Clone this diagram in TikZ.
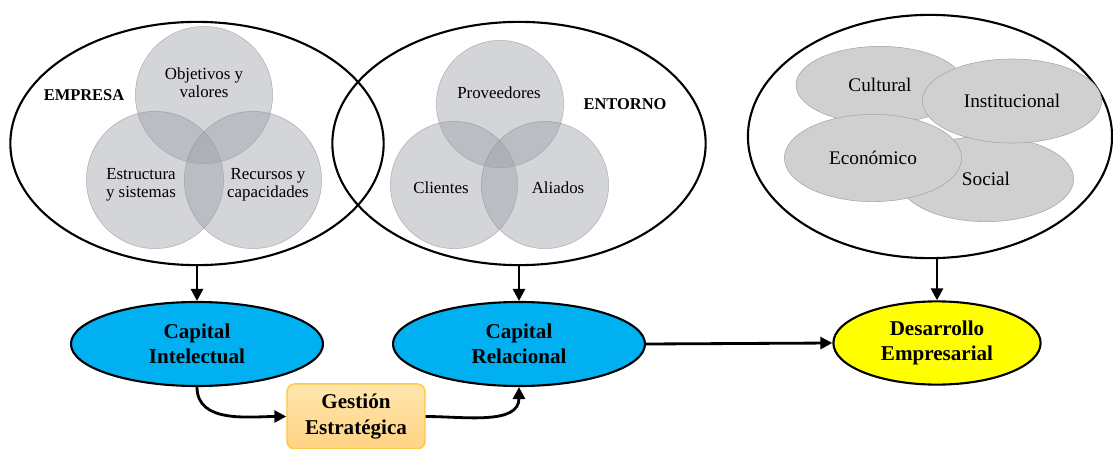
\documentclass[tikz,border=0pt]{standalone}
\usepackage{fontspec}
\setmainfont{Liberation Serif}
\usetikzlibrary{shapes.geometric,arrows.meta}

\definecolor{capblue}{HTML}{00B0F0}
\definecolor{devyellow}{HTML}{FFFF00}
\definecolor{venngray}{HTML}{9EA1AA}
\definecolor{ovalgray}{HTML}{D0D0D0}
\definecolor{gestop}{HTML}{FFE6AE}
\definecolor{gesbottom}{HTML}{FFD383}
\definecolor{gesborder}{HTML}{FFC83D}

\begin{document}
\begin{tikzpicture}[x=0.025cm,y=0.025cm,
    bigoval/.style={ellipse,draw,line width=1.5pt,inner sep=0pt,minimum width=9.33cm,minimum height=6.08cm},
    venn/.style={circle,draw=gray,draw opacity=0.5,fill=venngray,fill opacity=0.45,inner sep=0pt},
    venntext/.style={align=center,font=\fontsize{12}{12.5}\selectfont},
    sidetext/.style={font=\fontsize{11.7}{13}\selectfont\bfseries},
    envoval/.style={ellipse,draw=gray!70,fill=ovalgray,inner sep=0pt,font=\fontsize{13.7}{15}\selectfont},
    keyoval/.style={ellipse,draw,line width=1.5pt,inner sep=0pt,align=center,font=\fontsize{15}{18}\selectfont\bfseries},
    flow/.style={line width=2pt,-{Triangle[length=3mm,width=3mm]}}]
    \useasboundingbox (0,0) rectangle (1113,-448);

    % outer ovals
    \node[bigoval] (empresa) at (197,-143.5) {};
    \node[bigoval] (entorno) at (519,-143.5) {};
    \node[bigoval,minimum width=9.1cm] (contexto) at (930,-136.5) {};

    % empresa circles
    \node[venn,minimum size=3.43cm] (obj) at (204,-95) {};
    \node[venn,minimum size=3.43cm] (est) at (155,-180) {};
    \node[venn,minimum size=3.43cm] (rec) at (253,-180) {};
    \node[venntext] (objtxt) at (204,-83) {Objetivos y\\valores};
    \node[venntext] (esttxt) at (141,-185) {Estructura\\y sistemas};
    \node[venntext] (rectxt) at (268,-185) {Recursos y\\capacidades};
    \node[sidetext] (emplbl) at (84,-95) {EMPRESA};

    % entorno circles
    \node[venn,minimum size=3.18cm] (pro) at (500,-104) {};
    \node[venn,minimum size=3.18cm] (cli) at (454,-185) {};
    \node[venn,minimum size=3.18cm] (ali) at (545,-185) {};
    \node[venntext] (protxt) at (499,-93) {Proveedores};
    \node[venntext] (clitxt) at (441,-188) {Clientes};
    \node[venntext] (alitxt) at (558,-188) {Aliados};
    \node[sidetext] (entlbl) at (625,-104) {ENTORNO};

    % dimensiones
    \node[envoval,minimum width=4.38cm,minimum height=2.13cm] (soc) at (986,-179) {Social};
    \node[envoval,minimum width=4.2cm,minimum height=1.93cm] (cul) at (880,-85) {Cultural};
    \node[envoval,minimum width=4.48cm,minimum height=2.1cm] (ins) at (1012,-101) {Institucional};
    \node[envoval,minimum width=4.43cm,minimum height=2.18cm] (eco) at (873,-158) {Económico};

    % bottom row
    \node[keyoval,fill=capblue,minimum width=6.3cm,minimum height=2.1cm] (ci) at (197,-344) {Capital\\Intelectual};
    \node[keyoval,fill=capblue,minimum width=6.3cm,minimum height=2.1cm] (cr) at (519,-344) {Capital\\Relacional};
    \node[keyoval,fill=devyellow,minimum width=5.18cm,minimum height=2.08cm] (de) at (937,-343) {Desarrollo\\Empresarial};
    \node[rectangle,rounded corners=0.2cm,top color=gestop,bottom color=gesbottom,draw=gesborder,line width=1pt,
        minimum width=3.45cm,minimum height=1.63cm,align=center,font=\fontsize{15}{18}\selectfont\bfseries] (ge) at (356,-416.5) {Gestión\\Estratégica};

    % arrows
    \draw[flow] (empresa.south) -- (ci.north);
    \draw[flow] (entorno.south) -- (cr.north);
    \draw[flow] (de.north |- contexto.south) -- (de.north);
    \draw[flow] (cr.east) -- (de.west);
    \draw[flow] (ci.south) to[out=-90,in=180] (ge.west);
    \draw[flow] (ge.east) to[out=0,in=-90] (cr.south);
\end{tikzpicture}
\end{document}
